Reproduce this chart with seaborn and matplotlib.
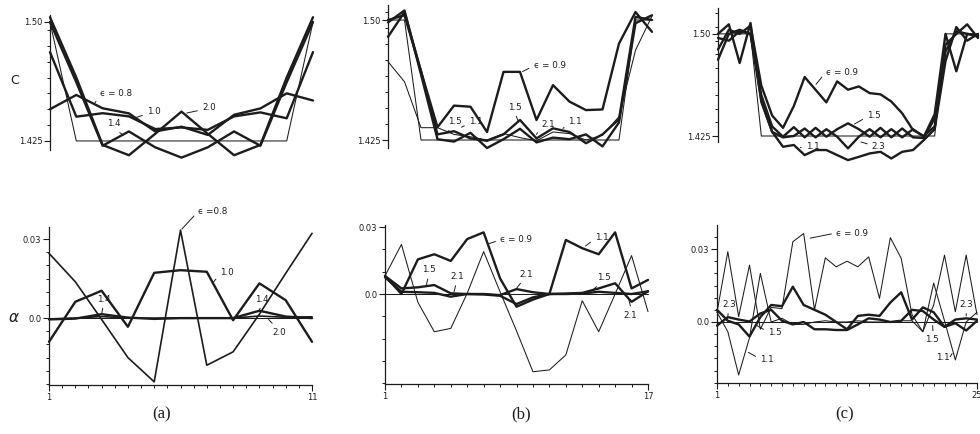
import numpy as np
import pandas as pd
import seaborn as sns
import matplotlib.pyplot as plt

INK = "#1c1c1c"

# ---------------- data ----------------
x_a = list(range(1, 12))
c_a_exact = [1.50, 1.425, 1.425, 1.425, 1.425, 1.425, 1.425, 1.425, 1.425, 1.425, 1.50]
c_a_08 = [1.445, 1.454, 1.4456, 1.4424, 1.431, 1.434, 1.4288, 1.4415, 1.4455, 1.455, 1.4505]
c_a_10 = [1.481, 1.4403, 1.4425, 1.4405, 1.4325, 1.4335, 1.4320, 1.4405, 1.4430, 1.4393, 1.481]
c_a_14 = [1.500, 1.462, 1.422, 1.431, 1.421, 1.4145, 1.421, 1.431, 1.422, 1.462, 1.500]
c_a_20 = [1.503, 1.465, 1.4225, 1.416, 1.4295, 1.4435, 1.4295, 1.416, 1.4225, 1.465, 1.503]

a_a_exact = [0.0] * 11
a_a_08 = [0.0246, 0.0138, -0.0005, -0.0150, -0.0242, 0.0334, -0.0179, -0.0128, 0.0015, 0.0170, 0.0322]
a_a_10 = [-0.0090, 0.0062, 0.0104, -0.0033, 0.0172, 0.0182, 0.0176, -0.0008, 0.0132, 0.0068, -0.0090]
a_a_14 = [-0.0005, -0.0002, 0.0015, 0.0002, -0.0003, 0.0, 0.0, 0.0, 0.0028, 0.0006, 0.0]
a_a_20 = [-0.0003, 0.0, 0.0006, 0.0, 0.0, 0.0001, 0.0, 0.0, 0.0008, 0.0003, 0.0005]

x_b = list(range(1, 18))
c_b_exact = [1.50, 1.50] + [1.425] * 13 + [1.50, 1.50]
c_b_09 = [1.4895, 1.505, 1.468, 1.433, 1.4465, 1.4458, 1.4300, 1.4676, 1.4676, 1.4375,
          1.4593, 1.449, 1.4437, 1.4441, 1.4853, 1.505, 1.4926]
c_b_11 = [1.474, 1.4614, 1.4327, 1.4327, 1.4285, 1.4270, 1.4250, 1.4290, 1.4265, 1.4245,
          1.4300, 1.4290, 1.4250, 1.4280, 1.4396, 1.4811, 1.5025]
c_b_15 = [1.500, 1.503, 1.468, 1.4285, 1.4305, 1.4260, 1.4245, 1.4285, 1.4375, 1.4260,
          1.4323, 1.4300, 1.4230, 1.4285, 1.4380, 1.502, 1.500]
c_b_21 = [1.4985, 1.506, 1.466, 1.4255, 1.4240, 1.4295, 1.4200, 1.4255, 1.4320, 1.4235,
          1.4265, 1.4255, 1.4285, 1.4210, 1.4360, 1.498, 1.503]

a_b_exact = [0.0] * 17
a_b_09 = [0.0081, 0.0, 0.0155, 0.0178, 0.0148, 0.0246, 0.0276, 0.0070, -0.0057, -0.0025,
          0.0, 0.0242, 0.0205, 0.0178, 0.0276, 0.0025, 0.0063]
a_b_11 = [0.0081, 0.0222, -0.0037, -0.0169, -0.0154, 0.0003, 0.0190, 0.0010, -0.0165, -0.0348,
          -0.0340, -0.0273, -0.0030, -0.0169, 0.0, 0.0172, -0.0079]
a_b_15 = [0.0081, 0.0025, 0.0030, 0.0040, 0.0003, 0.0, -0.0002, -0.0008, -0.0045, -0.0015,
          0.0, 0.0002, 0.0005, 0.0025, 0.0048, -0.0035, 0.0012]
a_b_21 = [0.0075, 0.0010, 0.0008, 0.0005, -0.0012, 0.0, 0.0, -0.0005, 0.0022, 0.0008,
          0.0, 0.0, 0.0002, 0.0010, 0.0005, 0.0, 0.0012]

x_c = list(range(1, 26))
c_c_exact = [1.50] * 4 + [1.425] * 17 + [1.50] * 4
c_c_09 = [1.4885, 1.503, 1.500, 1.506, 1.462, 1.440, 1.431, 1.447, 1.4683, 1.459, 1.4497,
          1.4651, 1.459, 1.4614, 1.4565, 1.4556, 1.4503, 1.4417, 1.4294, 1.4250, 1.432,
          1.487, 1.502, 1.500, 1.499]
c_c_11 = [1.481, 1.500, 1.503, 1.500, 1.451, 1.428, 1.4171, 1.4184, 1.4110, 1.4147, 1.4147,
          1.4110, 1.4073, 1.4097, 1.4122, 1.4134, 1.4085, 1.4134, 1.4147, 1.4220, 1.430,
          1.480, 1.505, 1.495, 1.500]
c_c_15 = [1.497, 1.495, 1.502, 1.500, 1.455, 1.432, 1.4245, 1.4315, 1.4240, 1.4310, 1.4245,
          1.4300, 1.4343, 1.4300, 1.4245, 1.4310, 1.4240, 1.4305, 1.4240, 1.4235, 1.438,
          1.492, 1.500, 1.507, 1.497]
c_c_23 = [1.500, 1.507, 1.4786, 1.508, 1.450, 1.428, 1.4240, 1.4250, 1.4305, 1.4240, 1.4300,
          1.4245, 1.4159, 1.4245, 1.4300, 1.4240, 1.4300, 1.4240, 1.4300, 1.4245, 1.441,
          1.500, 1.4725, 1.500, 1.498]

a_c_exact = [0.0] * 25
a_c_09 = [0.0040, 0.0289, 0.0022, 0.0234, -0.0030, 0.0060, 0.0055, 0.0330, 0.0364, 0.0050,
          0.0264, 0.0227, 0.0250, 0.0227, 0.0268, 0.0097, 0.0347, 0.0262, 0.0030, -0.0040,
          0.0070, 0.0275, 0.0042, 0.0275, 0.0030]
a_c_11 = [0.0040, -0.0040, -0.0218, -0.0065, 0.0200, 0.0000, 0.0015, -0.0010, -0.0010, 0.0,
          0.0005, 0.0, 0.0, 0.0005, 0.0, 0.0, 0.0, 0.0005, 0.0005, -0.0040, 0.0160, 0.0005,
          -0.0156, 0.0, 0.0040]
a_c_15 = [0.0050, 0.0005, -0.0010, -0.0060, 0.0020, 0.0070, 0.0065, 0.0145, 0.0070, 0.0050,
          0.0030, 0.0, -0.0030, 0.0025, 0.0030, 0.0025, 0.0080, 0.0122, 0.0010, 0.0060,
          0.0040, -0.0020, -0.0005, -0.0035, 0.0005]
a_c_23 = [-0.0015, 0.0020, 0.0010, 0.0002, 0.0035, 0.0050, 0.0005, -0.0010, 0.0, -0.0030,
          -0.0030, -0.0033, -0.0033, -0.0010, 0.0015, 0.0010, 0.0, 0.0005, 0.0050, 0.0045,
          0.0010, -0.0020, 0.0010, 0.0015, 0.0010]

# ---------------- figure ----------------
sns.set_style("ticks")
plt.rcParams["font.family"] = ["DejaVu Sans"]
fig = plt.figure(figsize=(9.8, 4.34), dpi=100)
W, H = 980.0, 434.0


def box(l, r, t, b):
    return [l / W, 1 - b / H, (r - l) / W, (b - t) / H]


def draw(ax, x, series):
    for vals, lw in series:
        sns.lineplot(x=x, y=vals, ax=ax, color=INK, lw=lw, estimator=None, sort=False,
                     legend=False, clip_on=False)


def style(ax, top, ylim, minor, xmax=None, xminor=None):
    ax.set_ylim(*ylim)
    ax.spines[["top", "right"]].set_visible(False)
    for s in ax.spines.values():
        s.set_linewidth(0.9)
        s.set_color(INK)
    ax.set_xlabel("")
    ax.set_ylabel("")
    if top:
        ax.set_yticks([1.425, 1.50], ["1.425", "1.50"])
        ax.spines["bottom"].set_visible(False)
        ax.tick_params(axis="x", bottom=False, labelbottom=False, which="both")
    else:
        ax.set_yticks([0.0, 0.03], ["0.0", "0.03"])
        ax.set_xticks([1, xmax], ["1", str(xmax)])
        ax.set_xticks(xminor, minor=True)
    ax.set_yticks(minor, minor=True)
    ax.tick_params(which="major", length=4, width=0.8, direction="out", labelsize=6,
                   pad=1.5, colors=INK)
    ax.tick_params(which="minor", length=2.5, width=0.7, direction="out", colors=INK)


def note(ax, txt, xt, xy, rel):
    ax.annotate(txt, xy=xy, xytext=xt, fontsize=6.3, ha="left", va="center", color=INK,
                annotation_clip=False,
                arrowprops=dict(arrowstyle="-", lw=0.7, color=INK, relpos=rel,
                                shrinkA=1, shrinkB=0))


THICK, MID, THIN = 1.7, 1.2, 0.75

# panel (a)
ax = fig.add_axes(box(50, 313, 15, 150))
draw(ax, x_a, [(c_a_exact, THIN), (c_a_08, THICK), (c_a_10, THICK), (c_a_14, THICK),
               (c_a_20, THICK)])
ax.set_xlim(1, 11)
style(ax, True, (1.4193, 1.5044), np.arange(1.425, 1.505, 0.01))
note(ax, "ϵ = 0.8", (2.9, 1.4552), (2.71, 1.449), (0, 0.3))
note(ax, "1.0", (4.69, 1.4433), (4.23, 1.4395), (0, 0.3))
note(ax, "2.0", (6.78, 1.4458), (6.2, 1.4426), (0, 0.3))
note(ax, "1.4", (3.17, 1.4357), (3.78, 1.4288), (0.5, 0))

ax = fig.add_axes(box(49, 312, 227, 385))
draw(ax, x_a, [(a_a_exact, THIN), (a_a_20, MID), (a_a_14, THICK), (a_a_08, MID),
               (a_a_10, THICK)])
ax.set_xlim(1, 11)
style(ax, False, (-0.0254, 0.0346), np.arange(-0.025, 0.035, 0.005), 11,
      np.arange(1, 11.01, 0.5))
note(ax, "ϵ =0.8", (6.67, 0.0405), (6.05, 0.0338), (0, 0.5))
note(ax, "1.0", (7.5, 0.0175), (7.24, 0.0135), (0, 0.3))
note(ax, "1.4", (2.82, 0.0072), (3.0, 0.0016), (0.5, 0))
note(ax, "1.4", (8.83, 0.0072), (9.0, 0.0030), (0.5, 0))
note(ax, "2.0", (9.48, -0.0053), (9.35, -0.0005), (0.3, 1))

# panel (b)
ax = fig.add_axes(box(388, 652, 5, 148))
draw(ax, x_b, [(c_b_exact, THIN), (c_b_11, THIN), (c_b_09, THICK), (c_b_15, THICK),
               (c_b_21, THICK)])
ax.set_xlim(1, 17)
style(ax, True, (1.420, 1.5094), np.arange(1.425, 1.51, 0.01))
note(ax, "ϵ = 0.9", (9.82, 1.4713), (9.15, 1.4678), (0, 0.5))
note(ax, "1.5", (4.62, 1.4363), (4.5, 1.4295), (0.5, 0))
note(ax, "1.1", (5.9, 1.4363), (5.45, 1.4330), (0, 0.3))
note(ax, "1.5", (8.25, 1.4455), (8.9, 1.4365), (0.5, 0))
note(ax, "2.1", (10.3, 1.435), (10.0, 1.4285), (0, 0.3))
note(ax, "1.1", (11.93, 1.4363), (11.6, 1.4322), (0, 0.3))

ax = fig.add_axes(box(385, 648, 225, 384))
draw(ax, x_b, [(a_b_exact, THIN), (a_b_21, THICK), (a_b_15, THICK), (a_b_11, THIN),
               (a_b_09, THICK)])
ax.set_xlim(1, 17)
style(ax, False, (-0.0403, 0.0309), np.arange(-0.04, 0.031, 0.01), 17,
      np.arange(1, 18, 1))
note(ax, "ϵ = 0.9", (8.0, 0.0242), (7.3, 0.0225), (0, 0.5))
note(ax, "1.1", (13.77, 0.0255), (13.2, 0.0215), (0, 0.3))
note(ax, "1.5", (3.25, 0.0108), (3.5, 0.0035), (0.5, 0))
note(ax, "2.1", (4.95, 0.0078), (5.2, 0.0010), (0.5, 0))
note(ax, "2.1", (9.2, 0.0088), (9.0, 0.0025), (0.3, 0))
note(ax, "1.5", (13.9, 0.0072), (13.7, 0.0022), (0.3, 0))
note(ax, "2.1", (15.5, -0.0095), (15.8, -0.0015), (0.6, 1))

# panel (c)
ax = fig.add_axes(box(718, 978, 8, 142))
draw(ax, x_c, [(c_c_exact, THIN), (c_c_11, THICK), (c_c_09, THICK), (c_c_15, THICK),
               (c_c_23, THICK)])
ax.set_xlim(1, 25)
style(ax, True, (1.4206, 1.519), np.arange(1.425, 1.52, 0.01))
note(ax, "ϵ = 0.9", (10.97, 1.472), (10.05, 1.4630), (0, 0.5))
note(ax, "1.5", (14.76, 1.4404), (13.6, 1.4338), (0, 0.3))
note(ax, "2.3", (15.2, 1.4176), (14.2, 1.4206), (0, 0.6))
note(ax, "1.1", (9.1, 1.4176), (8.6, 1.4165), (0, 0.5))

ax = fig.add_axes(box(717, 977, 225, 383))
draw(ax, x_c, [(a_c_exact, THIN), (a_c_23, THICK), (a_c_15, THICK), (a_c_11, THIN),
               (a_c_09, THIN)])
ax.set_xlim(1, 25)
style(ax, False, (-0.0251, 0.0399), np.arange(-0.025, 0.04, 0.005), 25,
      np.arange(1, 26, 1))
note(ax, "ϵ = 0.9", (11.99, 0.0366), (9.6, 0.0345), (0, 0.5))
note(ax, "2.3", (1.46, 0.0072), (2.0, 0.0025), (0.5, 0))
note(ax, "1.5", (5.7, -0.0045), (4.7, -0.0015), (0, 0.6))
note(ax, "1.1", (4.97, -0.0156), (3.9, -0.0125), (0, 0.6))
note(ax, "1.5", (20.2, -0.0074), (20.9, -0.0015), (0.6, 1))
note(ax, "1.1", (21.2, -0.0148), (22.7, -0.0130), (1, 0.5))
note(ax, "2.3", (23.4, 0.0072), (24.0, 0.0025), (0.5, 0))

# axis letters and panel captions
fig.text(15 / W, 1 - 80 / H, "C", fontsize=9, ha="center", va="center", color=INK)
fig.text(14 / W, 1 - 318 / H, r"$\alpha$", fontsize=11, ha="center", va="center", color=INK)
for px, lab in [(162, "(a)"), (521, "(b)"), (845, "(c)")]:
    fig.text(px / W, 1 - 414 / H, lab, fontsize=12, ha="center", va="center",
             family=["Liberation Serif", "DejaVu Serif"], color=INK)

fig.savefig("out.png", dpi=100)
